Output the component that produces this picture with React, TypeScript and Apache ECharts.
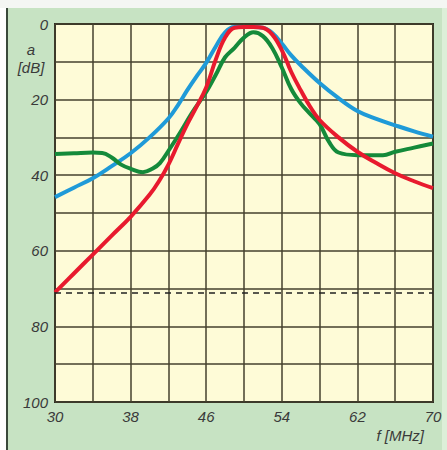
import React, { useEffect, useRef } from "react";
import * as echarts from "echarts";

const xTicks = [30, 38, 46, 54, 62, 70];
const yTicks = [0, 20, 40, 60, 80, 100];
const referenceLevel = 71;

const blueCurve: [number, number][] = [
  [30, 45.8], [32, 43.3], [34, 40.8], [36, 37.6], [38, 34.2], [40, 30], [42, 25],
  [43, 21.5], [44, 17.5], [45, 13.8], [46, 10.3], [47, 6], [48, 2.2], [49, 0.8], [50, 0.8],
  [51, 0.8], [52, 1.0], [53, 2.4], [54, 5.2], [55, 8.3], [56, 10.9], [58, 15.6], [60, 19.6],
  [62, 23], [64, 25.1], [66, 26.8], [68, 28.4], [70, 29.8],
];

const redCurve: [number, number][] = [
  [30, 71], [32, 66], [34, 61], [36, 56], [38, 51], [40, 45.2], [41, 41.6], [42, 37.2],
  [43, 31.8], [44, 26.5], [45, 21.8], [46, 16.8], [47, 9.5], [48, 3.6],
  [49, 1.0], [50, 0.8], [51, 0.8], [52, 1.0], [53, 2.8], [54, 6.9], [55, 12.7], [56, 17.5],
  [57, 21.9], [58, 25.4], [60, 30], [62, 33.8], [64, 36.8], [66, 39.5],
  [68, 41.6], [70, 43.4],
];

const greenCurve: [number, number][] = [
  [30, 34.4], [32, 34.2], [34, 34], [35, 34.1], [36, 35.3], [37, 37.2], [38, 38.3],
  [39.3, 39.2], [40.3, 38.3], [41.1, 36.8], [42.2, 32.8], [43.2, 28.9],
  [44.5, 23.5], [46, 18], [47, 13.5], [48, 8.8], [49, 6.3],
  [50, 3.6], [51, 2.2], [52, 3.2], [53, 6.4], [54, 11.5],
  [55, 17.2], [56, 21], [57, 23.8], [58, 26.5], [59, 31.2],
  [60, 34], [62, 34.7], [64.7, 34.7], [66, 33.8], [68, 32.7], [70, 31.6],
];

const FONT = "'Liberation Sans', Arial, sans-serif";
const TEXT = "#3a3a3a";

export default function App() {
  const ref = useRef<HTMLDivElement>(null);
  useEffect(() => {
    if (!ref.current) return;
    const chart = echarts.init(ref.current, undefined, { renderer: "svg" });
    const lineSeries = (data: [number, number][], color: string) => ({
      type: "line",
      data,
      smooth: 0.4,
      showSymbol: false,
      symbol: "none",
      clip: true,
      lineStyle: { color, width: 4 },
    });
    chart.setOption({
      animation: false,
      backgroundColor: "transparent",
      graphic: [
        { type: "rect", left: 0, top: 0, shape: { width: 447, height: 8 }, style: { fill: "#f4f6f3" }, z: -10 },
        { type: "rect", left: 6, top: 8, shape: { width: 441, height: 442 }, style: { fill: "#c7e3c3" }, z: -10 },
        { type: "rect", left: 442, top: 8, shape: { width: 5, height: 442 }, style: { fill: "#dcefd8" }, z: -9 },
        { type: "rect", left: 6, top: 8, shape: { width: 2, height: 442 }, style: { fill: "#3b4a3b" }, z: -9 },
        {
          type: "text", x: 31, y: 49,
          style: { text: "a", font: `italic 15px ${FONT}`, fill: TEXT, align: "center", verticalAlign: "middle" },
        },
        {
          type: "text", x: 31, y: 67,
          style: { text: "[dB]", font: `italic 15px ${FONT}`, fill: TEXT, align: "center", verticalAlign: "middle" },
        },
        {
          type: "text", x: 424, y: 435,
          style: { text: "f [MHz]", font: `italic 15px ${FONT}`, fill: TEXT, align: "right", verticalAlign: "middle" },
        },
      ],
      grid: {
        left: 55, top: 24, width: 378, height: 378,
        show: true, backgroundColor: "#fefbd7", borderColor: "#2a2a22", borderWidth: 2,
      },
      xAxis: {
        type: "value", min: 30, max: 70, interval: 4,
        axisLine: { show: false }, axisTick: { show: false },
        splitLine: { show: true, lineStyle: { color: "#45402e", width: 1.5 } },
        axisLabel: {
          margin: 7,
          fontFamily: FONT, fontStyle: "italic", fontSize: 15, color: TEXT,
          showMinLabel: true, showMaxLabel: true,
          formatter: (v: number) => (xTicks.includes(v) ? String(v) : ""),
        },
      },
      yAxis: {
        type: "value", min: 0, max: 100, interval: 10, inverse: true,
        axisLine: { show: false }, axisTick: { show: false },
        splitLine: { show: true, lineStyle: { color: "#45402e", width: 1.5 } },
        axisLabel: {
          margin: 7,
          fontFamily: FONT, fontStyle: "italic", fontSize: 15, color: TEXT,
          showMinLabel: true, showMaxLabel: true,
          formatter: (v: number) => (yTicks.includes(v) ? String(v) : ""),
        },
      },
      series: [
        {
          ...lineSeries(blueCurve, "#1f9ad8"),
          markLine: {
            silent: true, symbol: "none", label: { show: false },
            lineStyle: { color: "#222", width: 1.5, type: [6, 5] },
            data: [{ yAxis: referenceLevel }],
          },
        },
        lineSeries(greenCurve, "#148a3a"),
        lineSeries(redCurve, "#e81a2e"),
      ],
    });
    return () => chart.dispose();
  }, []);
  return (
    <div
      ref={ref}
      style={{ position: "absolute", left: 0, top: 0, width: 447, height: 450 }}
    />
  );
}
